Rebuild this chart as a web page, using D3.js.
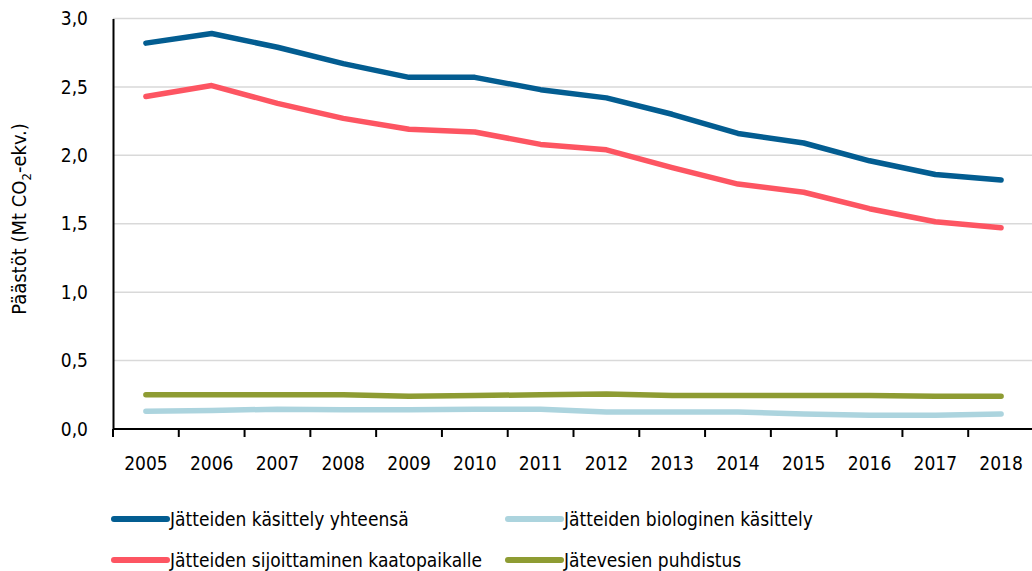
<!DOCTYPE html>
<html>
  <head>
    <meta charset="UTF-8" />
    <title>Jätteiden käsittelyn päästöt</title>
    <script src="https://d3js.org/d3.v7.min.js"></script>
    <style>
      * {
        margin: 0;
        padding: 0;
        box-sizing: border-box;
      }
      body {
        background-color: #ffffff;
      }
      svg {
        display: block;
      }
      text {
        font-family: "Liberation Sans Narrow", "DejaVu Sans Condensed", sans-serif;
        font-size: 19px;
        fill: #000000;
      }
      .grid line {
        stroke: #d9d9d9;
        stroke-width: 1.5;
      }
      .series {
        fill: none;
        stroke-width: 5.5;
        stroke-linecap: round;
        stroke-linejoin: round;
      }
    </style>
  </head>
  <body>
    <svg id="chart" width="1032" height="571"></svg>
  </body>
  <script>
    const years = ["2005", "2006", "2007", "2008", "2009", "2010", "2011",
                   "2012", "2013", "2014", "2015", "2016", "2017", "2018"];

    const yhteensa = [2.82, 2.89, 2.79, 2.67, 2.57, 2.57, 2.48, 2.42, 2.30, 2.16, 2.09, 1.96, 1.86, 1.82];
    const kaatopaikka = [2.43, 2.51, 2.38, 2.27, 2.19, 2.17, 2.08, 2.04, 1.91, 1.79, 1.73, 1.61, 1.515, 1.47];
    const biologinen = [0.13, 0.135, 0.145, 0.14, 0.14, 0.145, 0.145, 0.125, 0.125, 0.125, 0.11, 0.10, 0.10, 0.11];
    const jatevesi = [0.25, 0.25, 0.25, 0.25, 0.24, 0.245, 0.25, 0.255, 0.245, 0.245, 0.245, 0.245, 0.24, 0.24];

    const yTicks = [0, 0.5, 1.0, 1.5, 2.0, 2.5, 3.0];

    // drawing order: back to front
    const series = [
      { name: "Jätteiden biologinen käsittely", values: biologinen, color: "#acd4de" },
      { name: "Jätevesien puhdistus", values: jatevesi, color: "#8e9c33" },
      { name: "Jätteiden sijoittaminen kaatopaikalle", values: kaatopaikka, color: "#fd5562" },
      { name: "Jätteiden käsittely yhteensä", values: yhteensa, color: "#035d91" }
    ];

    const legendItems = [
      { name: "Jätteiden käsittely yhteensä", color: "#035d91", col: 0, row: 0 },
      { name: "Jätteiden biologinen käsittely", color: "#acd4de", col: 1, row: 0 },
      { name: "Jätteiden sijoittaminen kaatopaikalle", color: "#fd5562", col: 0, row: 1 },
      { name: "Jätevesien puhdistus", color: "#8e9c33", col: 1, row: 1 }
    ];

    const svg = d3.select("#chart");
    const plotLeft = 113, plotRight = 1034, plotTop = 18.5, plotBottom = 429;

    const x = d3.scaleBand().domain(years).range([plotLeft, plotRight]);
    const y = d3.scaleLinear().domain([0, 3]).range([plotBottom, plotTop]);

    // gridlines
    svg.append("g")
      .attr("class", "grid")
      .selectAll("line")
      .data(yTicks.filter((d) => d > 0))
      .join("line")
      .attr("x1", plotLeft)
      .attr("x2", 1032)
      .attr("y1", (d) => y(d))
      .attr("y2", (d) => y(d));

    // y axis
    const yAxis = svg.append("g")
      .attr("transform", `translate(${plotLeft},0)`)
      .call(d3.axisLeft(y).tickValues(yTicks).tickSize(0).tickPadding(25)
        .tickFormat((d) => d3.format(".1f")(d).replace(".", ",")));
    yAxis.select(".domain").attr("stroke", "#000").attr("stroke-width", 2);
    yAxis.selectAll("text").attr("font-size", null).attr("font-family", null);

    // x axis with ticks between categories
    const xAxis = svg.append("g")
      .attr("transform", `translate(0,${plotBottom})`)
      .call(d3.axisBottom(x).tickSize(0).tickPadding(28));
    xAxis.select(".domain").attr("stroke", "#000").attr("stroke-width", 2)
      .attr("d", `M${plotLeft},0H1032`);
    xAxis.selectAll("text").attr("font-size", null).attr("font-family", null);

    svg.append("g")
      .selectAll("line")
      .data(years)
      .join("line")
      .attr("x1", (d) => x(d))
      .attr("x2", (d) => x(d))
      .attr("y1", plotBottom)
      .attr("y2", plotBottom + 8)
      .attr("stroke", "#000")
      .attr("stroke-width", 2);

    // y axis title
    const title = svg.append("text")
      .attr("transform", "translate(26,219) rotate(-90)")
      .attr("text-anchor", "middle")
      .style("font-size", "20px");
    title.append("tspan").text("Päästöt (Mt CO");
    title.append("tspan").text("2").style("font-size", "13px").attr("dy", 5);
    title.append("tspan").text("-ekv.)").attr("dy", -5);

    // lines
    const line = d3.line()
      .x((d, i) => x(years[i]) + x.bandwidth() / 2)
      .y((d) => y(d));

    svg.append("g")
      .selectAll("path")
      .data(series)
      .join("path")
      .attr("class", "series")
      .attr("stroke", (d) => d.color)
      .attr("d", (d) => line(d.values));

    // legend
    const colX = [112, 506];
    const rowY = [519, 560];
    const legend = svg.append("g")
      .selectAll("g")
      .data(legendItems)
      .join("g")
      .attr("transform", (d) => `translate(${colX[d.col]},${rowY[d.row]})`);

    legend.append("line")
      .attr("x1", 2)
      .attr("x2", 55)
      .attr("stroke", (d) => d.color)
      .attr("stroke-width", 6)
      .attr("stroke-linecap", "round");

    legend.append("text")
      .attr("x", 58)
      .attr("dy", "0.35em")
      .text((d) => d.name);
  </script>
</html>
